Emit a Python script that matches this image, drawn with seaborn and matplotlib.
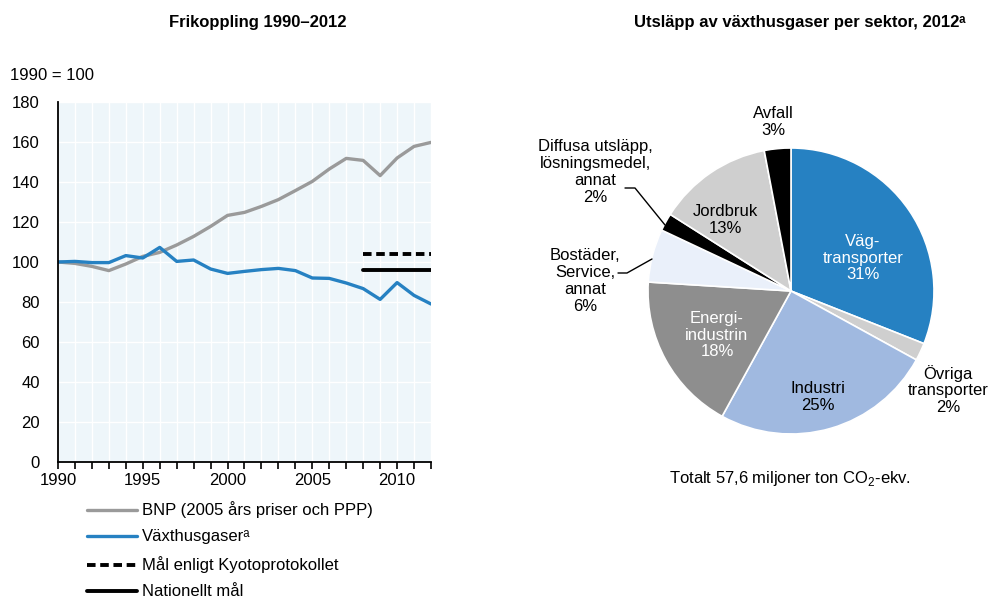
import matplotlib
matplotlib.use("Agg")
import matplotlib.pyplot as plt
import seaborn as sns
import pandas as pd
import numpy as np
from matplotlib.ticker import MultipleLocator

# ---------------- data ----------------
years = list(range(1990, 2013))
bnp = [100, 99.3, 97.8, 95.7, 99.0, 102.8, 104.8, 108.5, 112.8, 117.8, 123.3, 124.8,
       127.8, 131.2, 135.7, 140.3, 146.5, 151.8, 150.8, 143.2, 152.0, 157.8, 159.8]
ghg = [100, 100.3, 99.7, 99.7, 103.2, 102.0, 107.3, 100.3, 101.0, 96.5, 94.3, 95.3,
       96.2, 96.8, 95.7, 92.0, 91.8, 89.5, 86.7, 81.3, 89.7, 83.3, 79.0]
target_years = [2008, 2012]
kyoto = [104.2, 104.2]
national = [96.0, 96.0]
legend_labels = ["BNP (2005 års priser och PPP)", "Växthusgaserᵃ",
                 "Mål enligt Kyotoprotokollet", "Nationellt mål"]

sectors = ["Väg-\ntransporter\n31%", "Övriga\ntransporter\n2%", "Industri\n25%",
           "Energi-\nindustrin\n18%", "Bostäder,\nService,\nannat\n6%",
           "Diffusa utsläpp,\nlösningsmedel,\nannat\n2%", "Jordbruk\n13%", "Avfall\n3%"]
shares = [31, 2, 25, 18, 6, 2, 13, 3]
sector_colors = ["#2681C2", "#CFCFCF", "#A0B9E0", "#8E8E8E", "#EAF0FA", "#000000", "#CFCFCF", "#000000"]

# ---------------- style ----------------
sns.set_theme(style="white")
plt.rcParams["font.family"] = ["Liberation Sans", "DejaVu Sans"]
plt.rcParams["mathtext.fontset"] = "custom"
plt.rcParams["mathtext.rm"] = "Liberation Sans"
plt.rcParams["text.color"] = "#000000"
FS = 12

fig = plt.figure(figsize=(9.94, 6.02), dpi=100)

# ---------------- left line chart ----------------
ax = fig.add_axes([58/994, 1-462/602, 373/994, 360/602])
ax.set_facecolor("#EEF6FA")
df = pd.DataFrame({"year": years, "BNP": bnp, "GHG": ghg})
sns.lineplot(data=df, x="year", y="BNP", ax=ax, color="#9A9A9A", lw=2.4, label=legend_labels[0])
sns.lineplot(data=df, x="year", y="GHG", ax=ax, color="#2681C2", lw=2.4, label=legend_labels[1])
tdf = pd.DataFrame({"year": target_years, "kyoto": kyoto, "national": national})
sns.lineplot(data=tdf, x="year", y="kyoto", ax=ax, color="black", lw=2.8, linestyle=(0, (2.2, 1.2)),
             label=legend_labels[2])
sns.lineplot(data=tdf, x="year", y="national", ax=ax, color="black", lw=2.8, label=legend_labels[3])

ax.set_xlim(1990, 2012)
ax.set_ylim(0, 180)
ax.xaxis.set_major_locator(MultipleLocator(5))
ax.xaxis.set_minor_locator(MultipleLocator(1))
ax.yaxis.set_major_locator(MultipleLocator(20))
ax.grid(which="both", axis="x", color="white", lw=1.0)
ax.grid(which="major", axis="y", color="white", lw=1.0)
ax.set_axisbelow(True)
ax.set_xlabel("")
ax.set_ylabel("")
for s in ["top", "right"]:
    ax.spines[s].set_visible(False)
for s in ["left", "bottom"]:
    ax.spines[s].set_color("black")
    ax.spines[s].set_linewidth(1.3)
ax.tick_params(axis="x", which="both", direction="out", length=5, width=1.2, color="black",
               bottom=True, labelsize=FS, pad=3, labelcolor="black")
ax.tick_params(axis="y", which="both", length=0, labelsize=FS, pad=13, labelcolor="black")
ax.get_legend().remove()

# legend: one row per entry so the rows are evenly spaced
handles, labels = ax.get_legend_handles_labels()
row_y = [510, 537, 565, 592]
for h, l, yy in zip(handles, labels, row_y):
    lg = fig.legend([h], [l], loc="center left", bbox_to_anchor=(87/994, 1-yy/602),
                    frameon=False, fontsize=FS, handlelength=3.0, handletextpad=0.3,
                    borderpad=0, borderaxespad=0, labelcolor="black")

fig.text(258/994, 1-22/602, "Frikoppling 1990–2012", ha="center", va="center",
         fontsize=FS, fontweight="bold")
fig.text(10/994, 1-75/602, "1990 = 100", ha="left", va="center", fontsize=FS)

# ---------------- right pie chart ----------------
pax = fig.add_axes([(791-150)/994, 1-(291+150)/602, 300/994, 300/602])
wedges, _ = pax.pie(shares, colors=sector_colors, startangle=90, counterclock=False,
                    radius=143/150, wedgeprops=dict(edgecolor="white", linewidth=1.2))
pax.set_xlim(-1, 1)
pax.set_ylim(-1, 1)
pax.set_aspect("equal")
pax.axis("off")

def pc(x, y):
    # figure pixel -> pie axes data coords
    return ((x - 791) / 150.0, (291 - y) / 150.0)

label_pos = [(863, 258, "white", "center"), (948, 390, "black", "center"),
             (818, 397, "black", "center"), (717, 335, "white", "center"),
             (585, 281, "black", "center"), (595, 172, "black", "center"),
             (725, 220, "black", "center"), (773, 122, "black", "center")]
for lab, (x, y, c, ha) in zip(sectors, label_pos):
    tx, ty = pc(x, y)
    pax.text(tx, ty, lab, ha=ha, va="center", color=c, fontsize=FS, linespacing=1.15,
             clip_on=False)

# leader lines
for pts in ([(625, 188), (635, 188), (665, 225)], [(618, 273), (627, 273), (652, 259)]):
    xs, ys = zip(*[pc(*p) for p in pts])
    pax.plot(xs, ys, color="black", lw=1.0, clip_on=False)

fig.text(800/994, 1-22/602, "Utsläpp av växthusgaser per sektor, 2012ᵃ",
         ha="center", va="center", fontsize=FS, fontweight="bold")
fig.text(790/994, 1-478/602, "Totalt 57,6 miljoner ton CO$_{\\mathregular{2}}$-ekv.",
         ha="center", va="center", fontsize=FS)

fig.savefig("out.png", dpi=100)
